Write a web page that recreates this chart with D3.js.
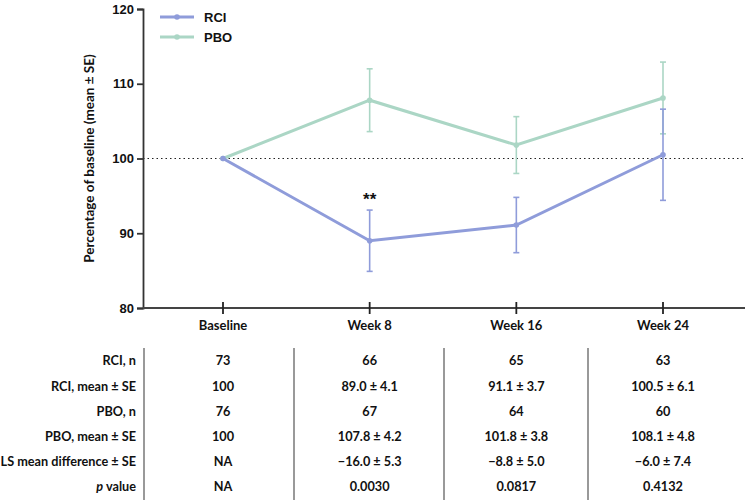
<!DOCTYPE html>
<html>
<head>
<meta charset="utf-8">
<script src="https://cdn.jsdelivr.net/npm/d3@7"></script>
<style>
  body { margin: 0; background: #fff; }
  svg { display: block; }
  .tbl text { font-family: Lato, "Open Sans", sans-serif; font-weight: 700; font-size: 12.7px; fill: #111; }
</style>
</head>
<body>
<div id="chart"></div>
<script>
const timepoints = ["Baseline", "Week 8", "Week 16", "Week 24"];
const rciMean = [100, 89.0, 91.1, 100.5];
const rciSE = [null, 4.1, 3.7, 6.1];
const pboMean = [100, 107.8, 101.8, 108.1];
const pboSE = [null, 4.2, 3.8, 4.8];
const yTicks = [80, 90, 100, 110, 120];

const rowLabels = ["RCI, n", "RCI, mean \u00b1 SE", "PBO, n", "PBO, mean \u00b1 SE", "LS mean difference \u00b1 SE", "p value"];
const tableValues = [
  ["73", "66", "65", "63"],
  ["100", "89.0 \u00b1 4.1", "91.1 \u00b1 3.7", "100.5 \u00b1 6.1"],
  ["76", "67", "64", "60"],
  ["100", "107.8 \u00b1 4.2", "101.8 \u00b1 3.8", "108.1 \u00b1 4.8"],
  ["NA", "\u221216.0 \u00b1 5.3", "\u22128.8 \u00b1 5.0", "\u22126.0 \u00b1 7.4"],
  ["NA", "0.0030", "0.0817", "0.4132"]
];

const colors = { rci: "#8f9cda", pbo: "#abd6c5" };

const width = 749, height = 501;
const margin = { left: 143, top: 9, right: 4, plotBottom: 308 };

const svg = d3.select("#chart").append("svg")
    .attr("width", width)
    .attr("height", height);

const x = d3.scalePoint()
    .domain(timepoints)
    .range([223, 663]);

const y = d3.scaleLinear()
    .domain([80, 120])
    .range([margin.plotBottom, margin.top]);

// reference line at 100
svg.append("line")
    .attr("x1", margin.left).attr("x2", width - margin.right)
    .attr("y1", y(100)).attr("y2", y(100))
    .attr("stroke", "#222")
    .attr("stroke-width", 1.2)
    .attr("stroke-dasharray", "1.5,3");

// y axis
const yAxis = d3.axisLeft(y).tickValues(yTicks).tickSize(6).tickPadding(3);
const yG = svg.append("g")
    .attr("transform", "translate(" + margin.left + ",0)")
    .call(yAxis);
yG.select(".domain").attr("stroke", "#333").attr("stroke-width", 1.8);
yG.selectAll(".tick line").attr("stroke", "#333").attr("stroke-width", 1.8);
yG.selectAll(".tick text")
    .attr("font-family", "Liberation Sans, Arial, sans-serif")
    .attr("font-weight", "700")
    .attr("font-size", "13px")
    .attr("fill", "#111");

// x axis with crossing ticks
svg.append("line")
    .attr("x1", margin.left).attr("x2", width - margin.right)
    .attr("y1", margin.plotBottom).attr("y2", margin.plotBottom)
    .attr("stroke", "#444").attr("stroke-width", 1.8);

svg.selectAll(".xtick")
    .data(timepoints)
    .enter().append("line")
    .attr("class", "xtick")
    .attr("x1", d => x(d)).attr("x2", d => x(d))
    .attr("y1", margin.plotBottom - 6).attr("y2", margin.plotBottom + 6)
    .attr("stroke", "#222").attr("stroke-width", 1.8);

svg.selectAll(".xlabel")
    .data(timepoints)
    .enter().append("text")
    .attr("x", d => x(d))
    .attr("y", 330)
    .attr("text-anchor", "middle")
    .attr("font-family", "Lato, sans-serif")
    .attr("font-weight", "700")
    .attr("font-size", "13px")
    .attr("fill", "#111")
    .text(d => d);

// y axis title
svg.append("text")
    .attr("transform", "translate(94," + y(100) + ") rotate(-90)")
    .attr("text-anchor", "middle")
    .attr("font-family", "Lato, sans-serif")
    .attr("font-weight", "700")
    .attr("font-size", "13.5px")
    .attr("fill", "#111")
    .text("Percentage of baseline (mean \u00b1 SE)");

const line = d3.line()
    .x((d, i) => x(timepoints[i]))
    .y(d => y(d));

function drawSeries(means, ses, color) {
  const g = svg.append("g");
  // error bars
  means.forEach((m, i) => {
    if (ses[i] == null) return;
    const cx = x(timepoints[i]);
    g.append("line")
        .attr("x1", cx).attr("x2", cx)
        .attr("y1", y(m - ses[i])).attr("y2", y(m + ses[i]))
        .attr("stroke", color).attr("stroke-width", 1.6);
    [m - ses[i], m + ses[i]].forEach(v => {
      g.append("line")
          .attr("x1", cx - 3).attr("x2", cx + 3)
          .attr("y1", y(v)).attr("y2", y(v))
          .attr("stroke", color).attr("stroke-width", 1.6);
    });
  });
  g.append("path")
      .datum(means)
      .attr("d", line)
      .attr("fill", "none")
      .attr("stroke", color)
      .attr("stroke-width", 3);
  g.selectAll("circle")
      .data(means)
      .enter().append("circle")
      .attr("cx", (d, i) => x(timepoints[i]))
      .attr("cy", d => y(d))
      .attr("r", 2.8)
      .attr("fill", color);
}

drawSeries(pboMean, pboSE, colors.pbo);
drawSeries(rciMean, rciSE, colors.rci);

// significance mark
svg.append("text")
    .attr("x", x("Week 8"))
    .attr("y", y(rciMean[1] + rciSE[1]) - 5)
    .attr("text-anchor", "middle")
    .attr("font-family", "Liberation Sans, Arial, sans-serif")
    .attr("font-weight", "700")
    .attr("font-size", "17px")
    .attr("fill", "#111")
    .text("**");

// legend
const legend = [{ name: "RCI", color: colors.rci }, { name: "PBO", color: colors.pbo }];
const lg = svg.append("g").selectAll("g")
    .data(legend)
    .enter().append("g")
    .attr("transform", (d, i) => "translate(160," + (17 + i * 20) + ")");
lg.append("line")
    .attr("x1", 0).attr("x2", 34)
    .attr("stroke", d => d.color).attr("stroke-width", 3);
lg.append("circle").attr("cx", 17).attr("r", 2.8).attr("fill", d => d.color);
lg.append("text")
    .attr("x", 44).attr("dy", "0.36em")
    .attr("font-family", "Liberation Sans, Arial, sans-serif")
    .attr("font-weight", "700")
    .attr("font-size", "13px")
    .attr("fill", "#111")
    .text(d => d.name);

// table
const rowY = d3.scalePoint().domain(d3.range(rowLabels.length)).range([361, 487]);
const tbl = svg.append("g").attr("class", "tbl");

tbl.selectAll(".rowlabel")
    .data(rowLabels)
    .enter().append("text")
    .attr("x", 136)
    .attr("y", (d, i) => rowY(i))
    .attr("dy", "0.35em")
    .attr("text-anchor", "end")
    .each(function(d) {
      const t = d3.select(this);
      if (d === "p value") {
        t.append("tspan").attr("font-style", "italic").text("p");
        t.append("tspan").text(" value");
      } else {
        t.text(d);
      }
    });

tableValues.forEach((row, r) => {
  tbl.selectAll(".cell" + r)
      .data(row)
      .enter().append("text")
      .attr("x", (d, i) => x(timepoints[i]))
      .attr("y", rowY(r))
      .attr("dy", "0.35em")
      .attr("text-anchor", "middle")
      .text(d => d);
});

// column dividers
const dividerX = [144, 294, 444, 588];
tbl.selectAll(".divider")
    .data(dividerX)
    .enter().append("line")
    .attr("x1", d => d).attr("x2", d => d)
    .attr("y1", 348).attr("y2", 500)
    .attr("stroke", "#555").attr("stroke-width", 1.2);
</script>
</body>
</html>
